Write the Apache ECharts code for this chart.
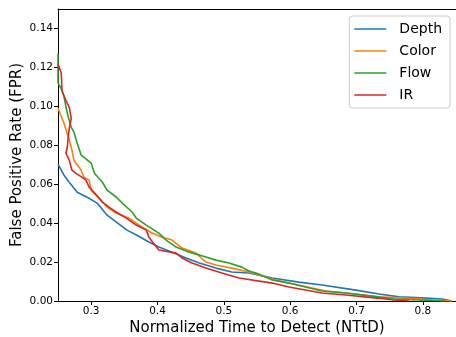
<!DOCTYPE html>
<html>
<head>
<meta charset="utf-8">
<script src="https://cdn.jsdelivr.net/npm/echarts@6/dist/echarts.min.js"></script>
<style>html,body{margin:0;padding:0;background:#fff}#c{width:456px;height:337px}</style>
</head>
<body>
<div id="c"></div>
<script>
var seriesNames = ['Depth', 'Color', 'Flow', 'IR'];
var seriesColors = ['#1f77b4', '#ff7f0e', '#2ca02c', '#d62728'];
var xTicks = [0.3, 0.4, 0.5, 0.6, 0.7, 0.8];
var yTicks = [0, 0.02, 0.04, 0.06, 0.08, 0.10, 0.12, 0.14];

var depth = [[0.250,0.0703],[0.252,0.0697],[0.259,0.0646],[0.267,0.0610],[0.279,0.0559],[0.294,0.0533],[0.309,0.0503],[0.324,0.0441],[0.338,0.0405],[0.354,0.0364],[0.369,0.0338],[0.387,0.0303],[0.402,0.0277],[0.422,0.0251],[0.443,0.0221],[0.463,0.0195],[0.488,0.0169],[0.512,0.0149],[0.538,0.0144],[0.553,0.0133],[0.573,0.0118],[0.613,0.0097],[0.648,0.0082],[0.699,0.0056],[0.734,0.0036],[0.764,0.0021],[0.805,0.0015],[0.829,0.0010],[0.844,0.0]];
var color = [[0.250,0.0990],[0.259,0.0913],[0.267,0.0826],[0.270,0.0790],[0.274,0.0723],[0.285,0.0672],[0.289,0.0636],[0.297,0.0621],[0.300,0.0569],[0.312,0.0528],[0.324,0.0482],[0.338,0.0451],[0.357,0.0426],[0.377,0.0379],[0.392,0.0349],[0.407,0.0328],[0.422,0.0313],[0.437,0.0272],[0.458,0.0246],[0.466,0.0221],[0.473,0.0200],[0.488,0.0185],[0.512,0.0169],[0.538,0.0149],[0.573,0.0113],[0.598,0.0092],[0.654,0.0051],[0.699,0.0036],[0.734,0.0021],[0.774,0.0015],[0.814,0.0005],[0.844,0.0]];
var flow = [[0.250,0.127],[0.250,0.112],[0.255,0.109],[0.259,0.105],[0.264,0.0964],[0.270,0.0892],[0.274,0.0867],[0.279,0.0810],[0.285,0.0749],[0.300,0.0708],[0.305,0.0656],[0.317,0.0610],[0.324,0.0569],[0.338,0.0533],[0.347,0.0503],[0.362,0.0456],[0.368,0.0426],[0.383,0.0390],[0.402,0.0349],[0.413,0.0313],[0.428,0.0277],[0.448,0.0251],[0.473,0.0226],[0.488,0.0210],[0.508,0.0195],[0.527,0.0174],[0.538,0.0154],[0.553,0.0138],[0.573,0.0108],[0.598,0.0092],[0.648,0.0051],[0.684,0.0041],[0.731,0.0021],[0.756,0.0010],[0.794,0.0005],[0.832,0.0]];
var ir = [[0.250,0.1215],[0.252,0.120],[0.255,0.117],[0.256,0.108],[0.262,0.103],[0.267,0.0995],[0.270,0.0938],[0.267,0.0887],[0.265,0.0826],[0.264,0.0790],[0.262,0.0759],[0.267,0.0723],[0.271,0.0672],[0.277,0.0656],[0.286,0.0636],[0.292,0.0621],[0.297,0.0585],[0.308,0.0544],[0.317,0.0508],[0.327,0.0482],[0.338,0.0456],[0.353,0.0426],[0.368,0.0390],[0.383,0.0364],[0.387,0.0328],[0.402,0.0262],[0.428,0.0246],[0.437,0.0221],[0.452,0.0195],[0.473,0.0169],[0.497,0.0144],[0.523,0.0118],[0.573,0.0092],[0.598,0.0072],[0.648,0.0041],[0.684,0.0031],[0.731,0.0015],[0.756,0.0005],[0.779,0.0]];
var seriesData = [depth, color, flow, ir];

var chart = echarts.init(document.getElementById('c'), null, {renderer: 'canvas'});
var font = 'DejaVu Sans';
var option = {
  animation: false,
  backgroundColor: '#fff',
  textStyle: {fontFamily: font},
  grid: {left: 58, right: 0, top: 9, bottom: 36, containLabel: false, outerBoundsMode: 'none'},
  legend: {
    orient: 'vertical', right: 6, top: 16,
    padding: [6, 8, 6, 5],
    itemWidth: 32, itemHeight: 14, itemGap: 8,
    icon: 'path://M0,6.25 L32,6.25 L32,7.75 L0,7.75 Z',
    backgroundColor: 'rgba(255,255,255,0.8)',
    borderColor: '#cccccc', borderWidth: 1, borderRadius: 3,
    textStyle: {fontFamily: font, fontSize: 14, color: '#000', padding: [0, 0, 0, 8]},
    data: seriesNames
  },
  xAxis: [{
    type: 'value', min: 0.25, max: 0.85, position: 'bottom',
    name: 'Normalized Time to Detect (NTtD)', nameLocation: 'middle', nameGap: 20, nameMoveOverlap: false,
    nameTextStyle: {fontFamily: font, fontSize: 15, color: '#000'},
    axisLine: {show: true, lineStyle: {color: '#000', width: 1}},
    axisTick: {show: true, inside: false, length: 4, lineStyle: {color: '#000'}, customValues: xTicks},
    axisLabel: {show: true, fontFamily: font, fontSize: 10.5, color: '#000', margin: 5, customValues: xTicks,
      formatter: function (v) { return v.toFixed(1); }},
    splitLine: {show: false}
  }, {
    type: 'value', min: 0.25, max: 0.85, position: 'top',
    axisLine: {show: true, lineStyle: {color: '#000', width: 1}},
    axisTick: {show: false}, axisLabel: {show: false}, splitLine: {show: false}
  }],
  yAxis: {
    type: 'value', min: 0, max: 0.15,
    name: 'False Positive Rate (FPR)', nameLocation: 'middle', nameGap: 33, nameRotate: 90, nameMoveOverlap: false,
    nameTextStyle: {fontFamily: font, fontSize: 15, color: '#000'},
    axisLine: {show: true, lineStyle: {color: '#000', width: 1}},
    axisTick: {show: true, inside: false, length: 4, lineStyle: {color: '#000'}, customValues: yTicks},
    axisLabel: {show: true, fontFamily: font, fontSize: 10.5, color: '#000', margin: 5, customValues: yTicks,
      formatter: function (v) { return v.toFixed(2); }},
    splitLine: {show: false}
  },
  series: seriesNames.map(function (n, i) {
    return {
      name: n, type: 'line', xAxisIndex: 0, data: seriesData[i],
      showSymbol: false, symbol: 'none', clip: true,
      lineStyle: {color: seriesColors[i], width: 1.6},
      itemStyle: {color: seriesColors[i]}
    };
  })
};
chart.setOption(option);
</script>
</body>
</html>
